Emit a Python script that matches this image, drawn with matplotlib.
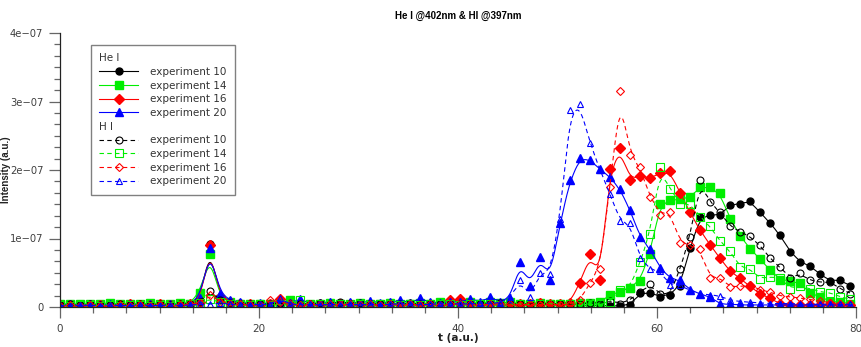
import numpy as np
import matplotlib.pyplot as plt
from matplotlib.lines import Line2D
from matplotlib.ticker import MultipleLocator, AutoMinorLocator, FuncFormatter
from matplotlib.transforms import offset_copy

# sample times (a.u.)
t = np.arange(80) * 1.005

# He I @402nm, values in 1e-7
he10 = [0.03, 0.02, 0.03, 0.02, 0.03, 0.02, 0.03, 0.03, 0.02, 0.03,
        0.03, 0.02, 0.03, 0.05, 0.10, 0.92, 0.12, 0.08, 0.06, 0.04,
        0.03, 0.05, 0.06, 0.04, 0.03, 0.04, 0.03, 0.05, 0.03, 0.04,
        0.03, 0.04, 0.05, 0.03, 0.04, 0.03, 0.04, 0.03, 0.05, 0.04,
        0.03, 0.04, 0.03, 0.04, 0.03, 0.04, 0.03, 0.04, 0.05, 0.04,
        0.03, 0.04, 0.03, 0.02, 0.03, 0.01, 0.02, 0.03, 0.20, 0.21,
        0.15, 0.18, 0.30, 0.86, 1.31, 1.34, 1.34, 1.49, 1.51, 1.55,
        1.38, 1.23, 1.05, 0.81, 0.66, 0.60, 0.48, 0.38, 0.40, 0.30]
he14 = [0.05, 0.04, 0.05, 0.04, 0.05, 0.06, 0.04, 0.05, 0.04, 0.06,
        0.05, 0.04, 0.06, 0.05, 0.21, 0.78, 0.12, 0.08, 0.05, 0.04,
        0.05, 0.04, 0.05, 0.10, 0.05, 0.04, 0.05, 0.06, 0.04, 0.05,
        0.06, 0.04, 0.05, 0.06, 0.04, 0.05, 0.06, 0.04, 0.07, 0.05,
        0.06, 0.07, 0.05, 0.08, 0.06, 0.07, 0.05, 0.04, 0.06, 0.05,
        0.05, 0.05, 0.06, 0.06, 0.07, 0.18, 0.22, 0.28, 0.38, 0.78,
        1.50, 1.56, 1.57, 1.60, 1.75, 1.75, 1.66, 1.29, 1.04, 0.85,
        0.70, 0.54, 0.40, 0.38, 0.35, 0.20, 0.15, 0.08, 0.07, 0.05]
he16 = [0.03, 0.03, 0.02, 0.03, 0.03, 0.02, 0.03, 0.04, 0.03, 0.03,
        0.04, 0.03, 0.03, 0.04, 0.08, 0.90, 0.15, 0.07, 0.05, 0.04,
        0.03, 0.04, 0.12, 0.05, 0.04, 0.03, 0.04, 0.03, 0.05, 0.04,
        0.03, 0.04, 0.03, 0.05, 0.04, 0.03, 0.04, 0.05, 0.03, 0.10,
        0.12, 0.04, 0.03, 0.05, 0.04, 0.03, 0.05, 0.04, 0.06, 0.04,
        0.05, 0.06, 0.35, 0.78, 0.39, 2.01, 2.32, 1.85, 1.91, 1.88,
        1.95, 1.98, 1.67, 1.38, 1.12, 0.91, 0.71, 0.52, 0.42, 0.30,
        0.19, 0.13, 0.04, 0.03, 0.03, 0.03, 0.03, 0.04, 0.03, 0.03]
he20 = [0.03, 0.04, 0.03, 0.04, 0.03, 0.04, 0.03, 0.04, 0.03, 0.04,
        0.03, 0.04, 0.03, 0.05, 0.13, 0.86, 0.19, 0.10, 0.07, 0.05,
        0.06, 0.05, 0.07, 0.06, 0.12, 0.05, 0.06, 0.08, 0.05, 0.07,
        0.06, 0.09, 0.06, 0.07, 0.10, 0.06, 0.13, 0.07, 0.06, 0.08,
        0.07, 0.12, 0.08, 0.14, 0.08, 0.11, 0.66, 0.30, 0.73, 0.39,
        1.22, 1.85, 2.18, 2.15, 2.01, 1.90, 1.72, 1.42, 1.02, 0.85,
        0.57, 0.42, 0.39, 0.25, 0.19, 0.15, 0.04, 0.04, 0.03, 0.03,
        0.03, 0.03, 0.03, 0.03, 0.03, 0.03, 0.03, 0.03, 0.03, 0.03]

# H I @397nm, values in 1e-7
hi10 = [0.03, 0.04, 0.03, 0.04, 0.03, 0.03, 0.04, 0.03, 0.04, 0.03,
        0.04, 0.03, 0.04, 0.05, 0.08, 0.24, 0.10, 0.06, 0.04, 0.05,
        0.04, 0.05, 0.06, 0.04, 0.05, 0.04, 0.06, 0.05, 0.08, 0.05,
        0.06, 0.04, 0.05, 0.04, 0.05, 0.06, 0.04, 0.05, 0.04, 0.05,
        0.04, 0.05, 0.04, 0.05, 0.06, 0.04, 0.05, 0.04, 0.05, 0.04,
        0.05, 0.04, 0.05, 0.06, 0.05, 0.09, 0.05, 0.10, 0.22, 0.33,
        0.19, 0.17, 0.55, 1.02, 1.85, 1.53, 1.38, 1.18, 1.10, 1.03,
        0.90, 0.71, 0.58, 0.42, 0.49, 0.39, 0.36, 0.37, 0.27, 0.19]
hi14 = [0.03, 0.02, 0.03, 0.03, 0.02, 0.03, 0.02, 0.03, 0.03, 0.02,
        0.03, 0.02, 0.03, 0.04, 0.06, 0.12, 0.07, 0.04, 0.03, 0.03,
        0.04, 0.03, 0.04, 0.03, 0.10, 0.03, 0.04, 0.03, 0.04, 0.03,
        0.04, 0.03, 0.04, 0.05, 0.03, 0.04, 0.03, 0.04, 0.05, 0.04,
        0.03, 0.04, 0.05, 0.04, 0.03, 0.04, 0.05, 0.03, 0.04, 0.05,
        0.04, 0.05, 0.04, 0.05, 0.04, 0.07, 0.25, 0.28, 0.65, 1.06,
        2.05, 1.72, 1.51, 1.51, 1.32, 1.18, 0.96, 0.82, 0.58, 0.56,
        0.41, 0.44, 0.43, 0.27, 0.30, 0.27, 0.22, 0.21, 0.15, 0.11]
hi16 = [0.02, 0.03, 0.02, 0.03, 0.02, 0.02, 0.03, 0.02, 0.03, 0.02,
        0.03, 0.02, 0.03, 0.04, 0.06, 0.18, 0.08, 0.05, 0.04, 0.03,
        0.03, 0.10, 0.08, 0.04, 0.03, 0.04, 0.03, 0.04, 0.03, 0.04,
        0.03, 0.04, 0.03, 0.04, 0.03, 0.04, 0.03, 0.04, 0.03, 0.04,
        0.05, 0.04, 0.03, 0.04, 0.05, 0.04, 0.03, 0.04, 0.03, 0.04,
        0.03, 0.04, 0.10, 0.35, 0.56, 1.75, 3.15, 2.22, 2.04, 1.61,
        1.35, 1.39, 0.94, 0.90, 0.84, 0.42, 0.43, 0.29, 0.30, 0.32,
        0.25, 0.22, 0.16, 0.15, 0.13, 0.11, 0.09, 0.06, 0.05, 0.05]
hi20 = [0.02, 0.02, 0.03, 0.02, 0.02, 0.03, 0.02, 0.02, 0.03, 0.02,
        0.02, 0.03, 0.02, 0.03, 0.04, 0.04, 0.06, 0.04, 0.03, 0.03,
        0.04, 0.03, 0.13, 0.04, 0.03, 0.04, 0.03, 0.04, 0.03, 0.04,
        0.03, 0.04, 0.03, 0.04, 0.05, 0.04, 0.03, 0.04, 0.05, 0.04,
        0.05, 0.04, 0.06, 0.05, 0.06, 0.14, 0.39, 0.14, 0.50, 0.48,
        1.29, 2.87, 2.96, 2.39, 2.00, 1.65, 1.25, 1.22, 0.71, 0.55,
        0.52, 0.32, 0.32, 0.24, 0.19, 0.18, 0.16, 0.10, 0.08, 0.07,
        0.06, 0.05, 0.05, 0.05, 0.04, 0.04, 0.04, 0.04, 0.04, 0.04]

labels = ['experiment 10', 'experiment 14', 'experiment 16', 'experiment 20']
colors = ['#000000', '#00ee00', '#ff0000', '#0000ff']
he_markers = ['o', 's', 'D', '^']
hi_markers = ['o', 's', 'D', '^']
he_ms = [5, 5.5, 4.6, 6]
hi_ms = [5, 6, 4, 5]


def smooth(x, y, s=0.6):
    # gaussian kernel smoother for the guide line
    xs = np.linspace(x[0], x[-1], 1500)
    w = np.exp(-0.5 * ((xs[:, None] - x[None, :]) / s) ** 2)
    return xs, (w * y[None, :]).sum(1) / w.sum(1)


fig = plt.figure(figsize=(8.61, 3.47), dpi=100)
ax = fig.add_axes([60 / 861, 40 / 347, 796 / 861, 274 / 347])

he_handles = []
for y, c, m, ms in zip([he10, he14, he16, he20], colors, he_markers, he_ms):
    y = np.array(y) * 1e-7
    xs, ys = smooth(t, y)
    ax.plot(xs, ys, color=c, lw=0.8)
    ax.plot(t, y, ls='none', marker=m, ms=ms, color=c, mec=c)
    he_handles.append(Line2D([], [], color=c, lw=0.8, marker=m, ms=ms, mec=c))

hi_handles = []
for y, c, m, ms in zip([hi10, hi14, hi16, hi20], colors, hi_markers, hi_ms):
    y = np.array(y) * 1e-7
    xs, ys = smooth(t, y)
    ax.plot(xs, ys, color=c, lw=0.8, dashes=(4, 3))
    ax.plot(t, y, ls='none', marker=m, ms=ms, mfc='none', mec=c, mew=0.8)
    hi_handles.append(Line2D([], [], color=c, lw=0.8, dashes=(4, 3), marker=m, ms=ms,
                             mfc='none', mec=c, mew=0.8))

ax.set_xlim(0, 80)
ax.set_ylim(0, 4e-7)
ax.xaxis.set_major_locator(MultipleLocator(20))
ax.xaxis.set_minor_locator(AutoMinorLocator(6))
ax.yaxis.set_major_locator(MultipleLocator(1e-7))
ax.yaxis.set_minor_locator(AutoMinorLocator(6))
ax.yaxis.set_major_formatter(FuncFormatter(
    lambda v, p: '0' if abs(v) < 1e-12 else ('%.0e' % v).replace('-', '\u2212')))

for s in ['top', 'right']:
    ax.spines[s].set_visible(False)
for s in ['left', 'bottom']:
    ax.spines[s].set_color('#222222')
    ax.spines[s].set_linewidth(0.9)
ax.tick_params(which='major', length=8, width=0.9, color='#666666',
               labelcolor='#404040', labelsize=7.5, pad=4)
ax.tick_params(axis='y', which='major', labelsize=7.2)
ax.tick_params(which='minor', length=4.5, width=0.9, color='#666666')

ax.set_title('He I @402nm & HI @397nm', fontsize=7, fontweight='bold',
             family=['Liberation Sans', 'DejaVu Sans'], pad=10)
ax.set_xlabel('t (a.u.)', fontsize=7.5, fontweight='bold', color='#222222')
ax.xaxis.set_label_coords(0.5, -0.095)
ax.set_ylabel('Intensity (a.u.)', fontsize=7, fontweight='bold', color='#222222',
              family=['Liberation Sans', 'DejaVu Sans'])
ax.yaxis.set_label_coords(-0.062, 0.5)

hdr = Line2D([], [], ls='none')
handles = [hdr] + he_handles + [hdr] + hi_handles
names = ['He I'] + labels + ['H I'] + labels
fs = 7.5
hl, htp = 3.7, 1.2
leg = ax.legend(handles, names, loc='upper left', bbox_to_anchor=(0.039, 0.956),
                fontsize=fs, frameon=True, fancybox=False, edgecolor='#808080',
                framealpha=1, borderpad=0.8, labelspacing=0.35, handlelength=hl,
                handletextpad=htp, borderaxespad=0)
leg.get_frame().set_linewidth(1.0)
for txt in leg.get_texts():
    txt.set_color('#333333')
    if txt.get_text() in ('He I', 'H I'):
        txt.set_transform(offset_copy(txt.get_transform(), fig=fig,
                                      x=-(hl + htp) * fs, y=0, units='points'))

fig.savefig('out.png', dpi=100)
